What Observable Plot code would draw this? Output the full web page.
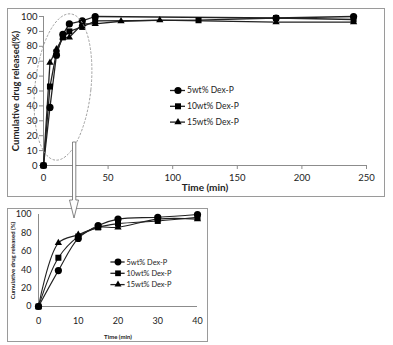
<!DOCTYPE html>
<html><head><meta charset="utf-8">
<script src="https://cdn.jsdelivr.net/npm/d3@7"></script>
<script src="https://cdn.jsdelivr.net/npm/@observablehq/plot@0.6"></script>
<style>
html,body{margin:0;padding:0;background:#fff;}
#wrap{position:relative;width:393px;height:345px;overflow:hidden;background:#fff;font-family:Lato,"Open Sans",sans-serif;}
#wrap svg{position:absolute;}
</style></head><body><div id="wrap"></div>
<script>
// ---- data ----
const times = [0, 5, 10, 15, 20, 30, 40, 60, 90, 120, 180, 240];
const dex5  = [0, 39, 74, 88, 95, 97, 100, null, null, null, 99, 100];
const dex10 = [0, 53, 76, 86, 90, 93, 97, null, null, 97.5, 99, 98];
const dex15 = [0, 69, 78, 86, 86, 95, 95, 96.8, 97.5, null, 96.2, 96.2];
const seriesNames = ["5wt% Dex-P", "10wt% Dex-P", "15wt% Dex-P"];
const topXTicks = [0, 50, 100, 150, 200, 250];
const topYTicks = [0, 10, 20, 30, 40, 50, 60, 70, 80, 90, 100];
const zoomXTicks = [0, 10, 20, 30, 40];
const zoomYTicks = [0, 20, 40, 60, 80, 100];
const zoomMaxTime = 40;
const xLabel = "Time (min)";
const topYLabel = "Cumulative drug released(%)";
const zoomYLabel = "Cumulative drug released (%)";

// ---- styles ----
const markerSymbols = ["circle", "square", "triangle"];
const markerR = [3.6, 3.4, 2.7];
const axisGray = "#8c8c8c";

const values = [dex5, dex10, dex15];
const rows = [];
seriesNames.forEach((name, i) => {
  values[i].forEach((v, j) => { if (v != null) rows.push({series: name, t: times[j], v}); });
});

const wrap = document.getElementById("wrap");

function dots(data) {
  return seriesNames.map((name, i) => Plot.dot(data.filter(d => d.series === name), {
    x: "t", y: "v", symbol: markerSymbols[i], r: markerR[i], fill: "#000", stroke: "none"
  }));
}

// ---- top chart ----
const mainChart = Plot.plot({
  width: 393, height: 200,
  marginLeft: 43, marginRight: 27, marginTop: 16, marginBottom: 35,
  x: {domain: [0, 250]},
  y: {domain: [0, 100]},
  style: {fontFamily: "Lato, 'Open Sans', sans-serif", fontSize: "9.5px", color: "#222", background: "transparent", overflow: "visible"},
  marks: [
    Plot.axisX({ticks: topXTicks, tickSize: 4, tickPadding: 5, stroke: axisGray, label: null}),
    Plot.axisY({ticks: topYTicks, tickSize: 4, tickPadding: 2, stroke: axisGray, label: null}),
    Plot.ruleY([0], {stroke: axisGray}),
    Plot.ruleX([0], {stroke: axisGray}),
    Plot.line(rows, {x: "t", y: "v", z: "series", stroke: "#222", strokeWidth: 1.3}),
    ...dots(rows),
    Plot.text([xLabel], {frameAnchor: "bottom", dy: 25, text: d => d, fontWeight: "bold", fontSize: 10, textAnchor: "middle"}),
    Plot.text([topYLabel], {frameAnchor: "left", dx: -28, rotate: -90, text: d => d, fontWeight: "bold", fontSize: 9.5, textAnchor: "middle"})
  ]
});
mainChart.style.left = "0px"; mainChart.style.top = "0px";
wrap.appendChild(mainChart);

// ---- zoomed chart ----
const zrows = rows.filter(d => d.t <= zoomMaxTime);
const zoomChart = Plot.plot({
  width: 215, height: 145,
  marginLeft: 38, marginRight: 18, marginTop: 14, marginBottom: 39,
  x: {domain: [0, zoomMaxTime]},
  y: {domain: [0, 100]},
  style: {fontFamily: "Lato, 'Open Sans', sans-serif", fontSize: "9px", color: "#222", background: "transparent", overflow: "visible"},
  marks: [
    Plot.axisX({ticks: zoomXTicks, tickSize: 0, tickPadding: 11, label: null}),
    Plot.axisY({ticks: zoomYTicks, tickSize: 0, tickPadding: 7, label: null}),
    Plot.ruleY([0], {stroke: axisGray}),
    Plot.ruleX([0], {stroke: axisGray}),
    Plot.line(zrows, {x: "t", y: "v", z: "series", stroke: "#222", strokeWidth: 1.1, curve: "catmull-rom"}),
    ...dots(zrows),
    Plot.text([xLabel], {frameAnchor: "bottom", dy: 32, text: d => d, fontWeight: "bold", fontSize: 6, textAnchor: "middle"}),
    Plot.text([zoomYLabel], {frameAnchor: "left", dx: -25, rotate: -90, text: d => d, fontWeight: "bold", fontSize: 6, textAnchor: "middle"})
  ]
});
zoomChart.style.left = "0px"; zoomChart.style.top = "200px";
wrap.appendChild(zoomChart);

// ---- overlay: frames, legends, ellipse, arrow ----
const ov = d3.select(wrap).append("svg").attr("width", 393).attr("height", 345)
  .style("left", "0px").style("top", "0px").style("pointer-events", "none");
ov.append("rect").attr("x", 7.5).attr("y", 8.5).attr("width", 377).attr("height", 188)
  .attr("fill", "none").attr("stroke", "#9a9a9a");
ov.append("rect").attr("x", 7.5).attr("y", 208.5).attr("width", 200).attr("height", 133)
  .attr("fill", "none").attr("stroke", "#9a9a9a");

const d3sym = {circle: d3.symbolCircle, square: d3.symbolSquare, triangle: d3.symbolTriangle};
function legend(x, y0, step, fontSize, scale) {
  seriesNames.forEach((name, i) => {
    const g = ov.append("g").attr("transform", `translate(${x},${y0 + i * step})`);
    g.append("line").attr("x1", -8 * scale).attr("x2", 7 * scale).attr("stroke", "#222").attr("stroke-width", 1.3);
    g.append("path").attr("d", d3.symbol(d3sym[markerSymbols[i]], Math.PI * markerR[i] * markerR[i] * scale * scale)())
      .attr("fill", "#000");
    g.append("text").attr("x", 9 * scale).attr("dy", "0.35em").attr("font-size", fontSize)
      .attr("fill", "#222").style("font-family", "Lato, 'Open Sans', sans-serif").text(name);
  });
}
legend(178, 90.5, 15.8, 8.5, 1);
legend(118, 262, 11.3, 7.4, 0.95);

ov.append("ellipse").attr("cx", 63).attr("cy", 87).attr("rx", 28).attr("ry", 73.5)
  .attr("transform", "rotate(6 63 87)")
  .attr("fill", "none").attr("stroke", "#999").attr("stroke-width", 0.9).attr("stroke-dasharray", "2.5,1.5");

ov.append("polygon")
  .attr("points", "72.5,142 72.5,200 69.5,200 74,218 78.5,200 75.8,200 75.8,142")
  .attr("fill", "#fff").attr("stroke", "#666").attr("stroke-width", 0.8);
</script></body></html>
